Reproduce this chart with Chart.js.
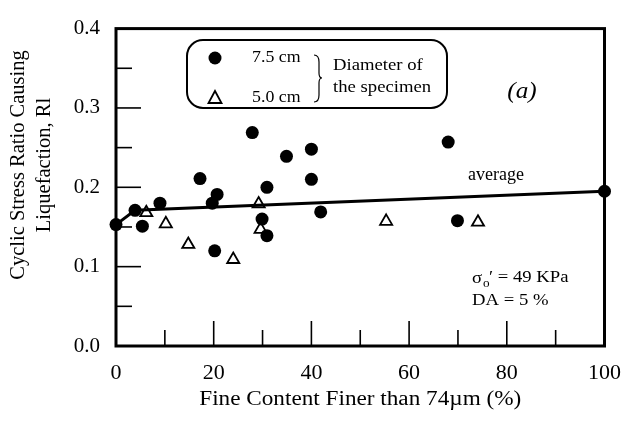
<!DOCTYPE html>
<html>
<head>
<meta charset="utf-8">
<script src="https://cdn.jsdelivr.net/npm/chart.js@4.4.1/dist/chart.umd.min.js"></script>
<style>
  html, body { margin: 0; padding: 0; background: #fff; }
  #wrap { width: 635px; height: 427px; }
</style>
</head>
<body>
<div id="wrap"><canvas id="rlChart" width="635" height="427"></canvas></div>
<script>
// 7.5 cm specimens (filled circles)
const bigX = [0, 3.9, 5.4, 9.0, 17.2, 19.7, 20.7, 20.2, 27.9, 29.9, 30.9, 30.9, 34.9, 40.0, 40.0, 41.9, 68.0, 69.9, 100];
const bigY = [0.153, 0.171, 0.151, 0.180, 0.211, 0.180, 0.191, 0.120, 0.269, 0.160, 0.200, 0.139, 0.239, 0.248, 0.210, 0.169, 0.257, 0.158, 0.195];

// 5.0 cm specimens (open triangles)
const smallX = [6.2, 10.2, 14.8, 24.0, 29.2, 29.6, 55.3, 74.1];
const smallY = [0.168, 0.154, 0.128, 0.109, 0.179, 0.147, 0.157, 0.156];

// average line
const avgX = [0, 3.9, 100];
const avgY = [0.153, 0.171, 0.195];

const xTicks = [0, 10, 20, 30, 40, 50, 60, 70, 80, 90, 100];
const yTicks = [0, 0.05, 0.1, 0.15, 0.2, 0.25, 0.3, 0.35, 0.4];

const serif = '"Liberation Serif", "Times New Roman", serif';

function toPoints(xs, ys) {
    return xs.map((x, i) => ({ x: x, y: ys[i] }));
}

// the scan is a bit wider than tall, so stretch text horizontally
function wideText(ctx, text, x, y, font, sx, align) {
    ctx.save();
    ctx.font = font;
    ctx.textAlign = align || 'left';
    ctx.translate(x, y);
    ctx.scale(sx, 1);
    ctx.fillText(text, 0, 0);
    ctx.restore();
}

// inner ticks, frame and the annotations drawn on top of the chart
const framePlugin = {
    id: 'frame',
    afterDraw(chart) {
        const ctx = chart.ctx;
        const area = chart.chartArea;
        const xs = chart.scales.x;
        const ys = chart.scales.y;
        ctx.save();
        ctx.strokeStyle = '#000';
        ctx.fillStyle = '#000';
        ctx.textBaseline = 'middle';

        // inward ticks
        ctx.lineWidth = 1.6;
        xTicks.forEach(v => {
            if (v === 0 || v === 100) return;
            const px = xs.getPixelForValue(v);
            const len = v % 20 === 0 ? 25 : 16;
            ctx.beginPath();
            ctx.moveTo(px, area.bottom);
            ctx.lineTo(px, area.bottom - len);
            ctx.stroke();
        });
        yTicks.forEach((v, i) => {
            if (i === 0 || i === yTicks.length - 1) return;
            const py = ys.getPixelForValue(v);
            const len = i % 2 === 0 ? 25 : 16;
            ctx.beginPath();
            ctx.moveTo(area.left, py);
            ctx.lineTo(area.left + len, py);
            ctx.stroke();
        });

        // plot frame
        ctx.lineWidth = 3;
        ctx.strokeRect(area.left, area.top, area.right - area.left, area.bottom - area.top);

        // axis titles
        wideText(ctx, 'Fine Content Finer than 74\u00b5m (%)', (area.left + area.right) / 2, 400, '20px ' + serif, 1.16, 'center');
        ctx.save();
        ctx.font = '20.5px ' + serif;
        ctx.textAlign = 'center';
        ctx.translate(19, 165);
        ctx.rotate(-Math.PI / 2);
        ctx.fillText('Cyclic Stress Ratio Causing', 0, 0);
        ctx.restore();
        ctx.save();
        ctx.font = '20.5px ' + serif;
        ctx.textAlign = 'center';
        ctx.translate(45, 165);
        ctx.rotate(-Math.PI / 2);
        ctx.fillText('Liquefaction, Rl', 0, 0);
        ctx.restore();

        // legend box
        ctx.lineWidth = 2;
        ctx.beginPath();
        ctx.roundRect(187, 40, 260, 68, 16);
        ctx.stroke();
        ctx.beginPath();
        ctx.arc(215, 58, 6.5, 0, Math.PI * 2);
        ctx.fill();
        ctx.lineWidth = 1.8;
        ctx.beginPath();
        ctx.moveTo(215, 91);
        ctx.lineTo(221.5, 103);
        ctx.lineTo(208.5, 103);
        ctx.closePath();
        ctx.stroke();

        wideText(ctx, '7.5 cm', 252, 58, '17px ' + serif, 1.05);
        wideText(ctx, '5.0 cm', 252, 98, '17px ' + serif, 1.05);

        // brace
        ctx.lineWidth = 1.2;
        ctx.beginPath();
        ctx.moveTo(314, 55);
        ctx.quadraticCurveTo(319, 55, 319, 62);
        ctx.lineTo(319, 73);
        ctx.quadraticCurveTo(319, 78, 322, 78);
        ctx.quadraticCurveTo(319, 78, 319, 83);
        ctx.lineTo(319, 95);
        ctx.quadraticCurveTo(319, 102, 314, 102);
        ctx.stroke();

        wideText(ctx, 'Diameter of', 333, 66, '17px ' + serif, 1.1);
        wideText(ctx, 'the specimen', 333, 88, '17px ' + serif, 1.1);

        wideText(ctx, '(a)', 522, 92, 'italic 24px ' + serif, 1.05, 'center');
        wideText(ctx, 'average', 496, 175, '18px ' + serif, 1.0, 'center');

        wideText(ctx, '\u03c3', 472, 279, '17px ' + serif, 1.1);
        wideText(ctx, 'o', 483, 284, '12px ' + serif, 1.1);
        wideText(ctx, '\u2032 = 49 KPa', 489, 278, '17px ' + serif, 1.1);
        wideText(ctx, 'DA = 5 %', 472, 301, '17px ' + serif, 1.1);
        ctx.restore();
    }
};

const ctx = document.getElementById('rlChart').getContext('2d');
const rlChart = new Chart(ctx, {
    type: 'scatter',
    data: {
        datasets: [
            {
                label: 'average',
                type: 'line',
                data: toPoints(avgX, avgY),
                borderColor: '#000',
                borderWidth: 3,
                pointRadius: 0,
                fill: false,
                clip: false
            },
            {
                label: '7.5 cm',
                data: toPoints(bigX, bigY),
                pointStyle: 'circle',
                pointRadius: 6.5,
                backgroundColor: '#000',
                borderColor: '#000',
                borderWidth: 0,
                clip: false
            },
            {
                label: '5.0 cm',
                data: toPoints(smallX, smallY),
                pointStyle: 'triangle',
                pointRadius: 7,
                backgroundColor: '#fff',
                borderColor: '#000',
                borderWidth: 1.8,
                clip: false
            }
        ]
    },
    options: {
        responsive: false,
        animation: false,
        layout: { padding: { top: 19, right: 28, left: 0, bottom: 0 } },
        plugins: {
            legend: { display: false },
            tooltip: { enabled: false }
        },
        scales: {
            x: {
                type: 'linear',
                min: 0,
                max: 100,
                afterFit(scale) { scale.height = 81; },
                afterBuildTicks(scale) { scale.ticks = xTicks.map(v => ({ value: v })); },
                grid: { display: false, drawTicks: false },
                border: { display: false },
                ticks: {
                    autoSkip: false,
                    maxRotation: 0,
                    padding: 14,
                    color: '#000',
                    font: { family: serif, size: 22 },
                    callback: v => (v % 20 === 0 ? String(v) : '')
                }
            },
            y: {
                type: 'linear',
                min: 0,
                max: 0.4,
                afterFit(scale) { scale.width = 116; },
                afterBuildTicks(scale) { scale.ticks = yTicks.map(v => ({ value: v })); },
                grid: { display: false, drawTicks: false },
                border: { display: false },
                ticks: {
                    autoSkip: false,
                    padding: 16,
                    color: '#000',
                    font: { family: serif, size: 21 },
                    callback: (v, i) => (i % 2 === 0 ? v.toFixed(1) : '')
                }
            }
        }
    },
    plugins: [framePlugin]
});
</script>
</body>
</html>
